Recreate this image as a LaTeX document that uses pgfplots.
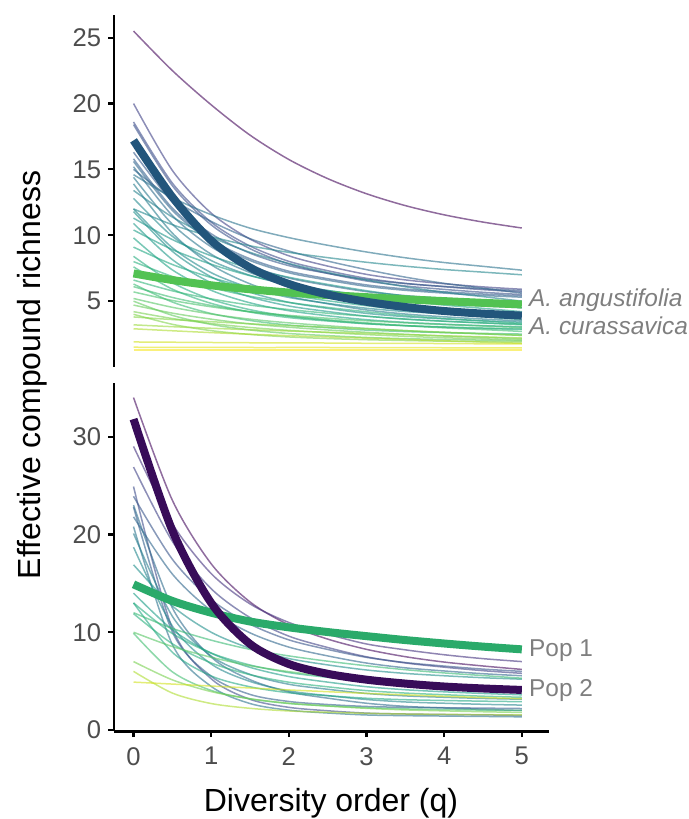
\documentclass[border=0pt]{standalone}
\usepackage{fontspec}
\setmainfont{Liberation Sans}
\usepackage{pgfplots}
\usepackage{pgfplotstable}
\pgfplotsset{compat=1.18}

\definecolor{tickgray}{HTML}{4D4D4D}
\definecolor{labgray}{HTML}{7F7F7F}
\definecolor{curblue}{HTML}{22557B}
\definecolor{anggreen}{HTML}{52C252}
\definecolor{popone}{HTML}{2AAA6A}
\definecolor{poptwo}{HTML}{380C59}

% one curve per row (name = viridis position 0..1000), values at q = 0, 0.5, ..., 5
\pgfplotstableread{
c    v0   v1    v2    v3    v4    v5    v6    v7    v8    v9    v10
q    0    0.5   1     1.5   2     2.5   3     3.5   4     4.5   5
c20  25.5 22.5  19.9  17.6  15.75 14.3  13.15 12.25 11.55 11.0  10.55
c200 20.0 14.92 11.68 9.71  8.44  7.66  7.03  6.61  6.32  6.08  5.9
c230 18.6 13.96 10.99 9.18  8.02  7.31  6.73  6.35  6.09  5.87  5.7
c250 18.4 13.76 10.79 8.98  7.82  7.11  6.53  6.15  5.89  5.67  5.5
c280 16.3 12.52 10.11 8.64  7.69  7.11  6.64  6.33  6.12  5.94  5.8
c300 15.8 12.06 9.66  8.21  7.27  6.7   6.23  5.92  5.71  5.54  5.4
c320 15.0 12.74 11.05 9.74  8.8   8.04  7.39  6.82  6.35  5.98  5.6
c330 15.6 11.89 9.52  8.08  7.15  6.59  6.12  5.82  5.61  5.43  5.3
c350 15.2 11.49 9.12  7.68  6.75  6.19  5.72  5.42  5.21  5.03  4.9
c380 14.6 12.86 11.56 10.54 9.82  9.24  8.73  8.29  7.93  7.64  7.35
c400 14.4 10.84 8.56  7.17  6.28  5.74  5.29  5.0   4.8   4.63  4.5
c420 13.9 10.16 7.76  6.31  5.37  4.8   4.33  4.02  3.81  3.64  3.5
c440 13.4 11.38 9.87  8.7   7.86  7.18  6.6   6.09  5.67  5.34  5.0
c460 12.0 10.8  9.9   9.2   8.7   8.3   7.95  7.65  7.4   7.2   7.0
c470 12.8 9.92  8.08  6.96  6.24  5.8   5.44  5.2   5.04  4.9   4.8
c480 12.0 9.05  7.16  6.01  5.28  4.83  4.46  4.21  4.05  3.91  3.8
c500 11.8 8.78  6.84  5.67  4.91  4.45  4.07  3.82  3.65  3.51  3.4
c520 11.3 9.67  8.44  7.49  6.81  6.27  5.79  5.38  5.04  4.77  4.5
c540 10.9 8.15  6.39  5.32  4.63  4.21  3.86  3.63  3.48  3.35  3.25
c560 10.4 8.91  7.8   6.93  6.31  5.81  5.38  5.01  4.7   4.45  4.2
c580 9.8  7.37  5.82  4.87  4.27  3.89  3.59  3.39  3.25  3.14  3.05
c600 9.1  7.78  6.79  6.02  5.47  5.03  4.65  4.32  4.04  3.82  3.6
c620 8.4  6.4   5.13  4.35  3.85  3.54  3.29  3.13  3.02  2.92  2.85
c640 8.0  6.87  6.03  5.37  4.9   4.52  4.19  3.91  3.68  3.49  3.3
c650 7.6  5.91  4.83  4.17  3.75  3.49  3.28  3.14  3.04  2.96  2.9
c660 6.6  5.78  5.17  4.7   4.36  4.08  3.85  3.64  3.47  3.34  3.2
c680 6.3  4.93  4.06  3.53  3.18  2.98  2.8   2.69  2.61  2.55  2.5
c690 6.1  5.28  4.67  4.2   3.86  3.58  3.35  3.14  2.97  2.84  2.7
c710 5.7  5.05  4.57  4.19  3.92  3.7   3.51  3.35  3.22  3.11  3.0
c740 5.2  4.53  4.02  3.63  3.35  3.13  2.93  2.76  2.62  2.51  2.4
c760 5.0  3.92  3.23  2.81  2.54  2.38  2.24  2.15  2.09  2.04  2.0
c770 4.7  4.09  3.63  3.27  3.02  2.81  2.63  2.48  2.35  2.25  2.15
c800 4.2  3.68  3.3   3.0   2.78  2.61  2.46  2.33  2.22  2.14  2.05
c810 4.0  3.24  2.76  2.47  2.28  2.16  2.07  2.01  1.96  1.93  1.9
c820 3.8  3.6   3.44  3.28  3.14  3.02  2.89  2.76  2.64  2.52  2.4
c850 3.2  3.06  2.94  2.83  2.73  2.64  2.55  2.46  2.37  2.29  2.2
c880 2.9  2.75  2.61  2.49  2.38  2.28  2.19  2.09  1.99  1.89  1.8
c930 1.9  1.88  1.86  1.84  1.83  1.82  1.8   1.79  1.78  1.76  1.75
c960 1.5  1.49  1.49  1.48  1.48  1.48  1.47  1.47  1.46  1.45  1.45
c990 1.3  1.3   1.3   1.3   1.3   1.3   1.3   1.3   1.3   1.3   1.3
ang  7.1  6.6   6.2   5.9   5.65  5.46  5.3   5.14  5.0   4.87  4.75
cur  17.2 12.9  9.6   7.55  6.3   5.5   4.95  4.55  4.25  4.05  3.9
}\toprows
\pgfplotstabletranspose[colnames from=c]\toptab\toprows

\pgfplotstableread{
c    v0   v1    v2    v3    v4    v5    v6    v7    v8    v9    v10
q    0    0.5   1     1.5   2     2.5   3     3.5   4     4.5   5
c30  34.0 23.5  17.0  13.1  10.75 9.3   8.25  7.5   6.95  6.55  6.2
c150 29.0 21.1  16.0  12.9  11.0  9.8   8.8   8.2   7.7   7.3   7.0
c200 26.9 19.3  14.45 11.5  9.6   8.44  7.49  6.86  6.43  6.07  5.8
c230 24.9 10.39 5.24  3.14  2.32  1.97  1.73  1.64  1.59  1.55  1.5
c260 23.9 17.46 13.34 10.83 9.22  8.24  7.43  6.9   6.54  6.23  6.0
c300 22.8 10.03 5.5   3.64  2.92  2.61  2.41  2.32  2.28  2.24  2.2
c330 21.8 15.95 12.21 9.94  8.48  7.58  6.85  6.36  6.04  5.76  5.55
c350 23.0 12.5  7.46  5.15  3.89  3.26  2.74  2.42  2.25  2.11  2.0
c380 20.8 8.74  4.46  2.71  2.03  1.74  1.54  1.47  1.43  1.39  1.35
c420 20.1 11.63 7.56  5.69  4.68  4.17  3.74  3.49  3.35  3.23  3.15
c460 18.7 10.63 6.75  4.97  4.0   3.52  3.12  2.87  2.74  2.63  2.55
c500 16.9 12.69 10.0  8.36  7.31  6.66  6.14  5.79  5.55  5.35  5.2
c560 14.0 10.26 7.86  6.41  5.47  4.9   4.43  4.12  3.91  3.74  3.6
c600 13.0 7.95  5.53  4.42  3.81  3.51  3.25  3.1   3.02  2.95  2.9
c620 13.0 9.87  7.87  6.65  5.87  5.39  5.0   4.74  4.56  4.41  4.3
c640 11.9 8.82  6.86  5.66  4.89  4.42  4.03  3.78  3.61  3.46  3.35
c680 12.0 10.39 9.19  8.25  7.58  7.04  6.57  6.17  5.84  5.57  5.3
c700 9.9  5.95  4.05  3.19  2.71  2.47  2.28  2.16  2.09  2.04  2.0
c740 10.0 8.54  7.44  6.58  5.97  5.49  5.06  4.69  4.39  4.14  3.9
c800 7.0  5.13  3.93  3.2   2.74  2.45  2.22  2.06  1.96  1.87  1.8
c880 6.0  3.78  2.71  2.22  1.95  1.82  1.71  1.64  1.6   1.57  1.55
c930 4.9  4.7   4.5   4.3   4.1   3.92  3.75  3.6   3.45  3.32  3.2
pop1 14.9 13.2  12.0  11.1  10.5  10.02 9.6   9.2   8.85  8.53  8.25
pop2 31.8 20.4  13.0  8.8   6.75  5.75  5.15  4.75  4.45  4.25  4.1
}\botrows
\pgfplotstabletranspose[colnames from=c]\bottab\botrows

\pgfplotsset{
  panel/.style={
    scale only axis, width=217.6pt,
    xmin=-0.254, xmax=5.35,
    colormap/viridis,
    axis line style={-, line width=1.2pt, black},
    x axis line style={-}, y axis line style={-},
    tick align=outside, major tick length=2.8pt,
    tick style={black, line width=1.1pt},
    tick label style={font=\fontsize{12.8}{14}\selectfont, text=tickgray},
    xticklabel style={yshift=-1.5pt},
    /pgf/number format/assume math mode=true,
    clip=false,
  },
  thinln/.style={line width=0.75pt, opacity=0.6, smooth, no markers},
  thickln/.style={line width=4pt, smooth, no markers},
}
\tikzset{lab/.style={anchor=west, inner sep=0pt, text=labgray, font=\fontsize{12.2}{14}\selectfont}}

\begin{document}
\begin{tikzpicture}
\useasboundingbox (0,0) rectangle (344.5pt,409.5pt);

\begin{axis}[axis x line=none, axis y line=left, panel,
  at={(56.9pt,226pt)}, anchor=south west, height=176pt,
  ymin=0, ymax=26.72, ytick={5,10,15,20,25}]
\pgfplotsinvokeforeach{20,200,230,250,280,300,320,330,350,380,400,420,440,460,470,480,500,520,540,560,580,600,620,640,650,660,680,690,710,740,760,770,800,810,820,850,880,930,960,990}{
  \addplot[thinln, color of colormap=#1] table[x=q, y=c#1] {\toptab};
}
\addplot[thickln, anggreen] table[x=q, y=ang] {\toptab};
\addplot[thickln, curblue] table[x=q, y=cur] {\toptab};
\node[lab] at (axis cs:5.09,5.1) {\itshape A. angustifolia};
\node[lab] at (axis cs:5.09,3.1) {\itshape A. curassavica};
\end{axis}

\begin{axis}[axis x line=bottom, axis y line=left, panel,
  at={(56.9pt,43.75pt)}, anchor=south west, height=174.1pt,
  ymin=-0.15, ymax=35.46, ytick={0,10,20,30}, xtick={0,1,2,3,4,5}]
\pgfplotsinvokeforeach{30,150,200,230,260,300,330,350,380,420,460,500,560,600,620,640,680,700,740,800,880,930}{
  \addplot[thinln, color of colormap=#1] table[x=q, y=c#1] {\bottab};
}
\addplot[thickln, popone] table[x=q, y=pop1] {\bottab};
\addplot[thickln, poptwo] table[x=q, y=pop2] {\bottab};
\node[lab] at (axis cs:5.09,8.1) {Pop 1};
\node[lab] at (axis cs:5.09,4.05) {Pop 2};
\end{axis}

\node[rotate=90, font=\fontsize{16}{19}\selectfont] at (16pt,222pt) {Effective compound richness};
\node[anchor=base, font=\fontsize{16}{19}\selectfont] at (165.5pt,4pt) {Diversity order (q)};
\end{tikzpicture}
\end{document}
